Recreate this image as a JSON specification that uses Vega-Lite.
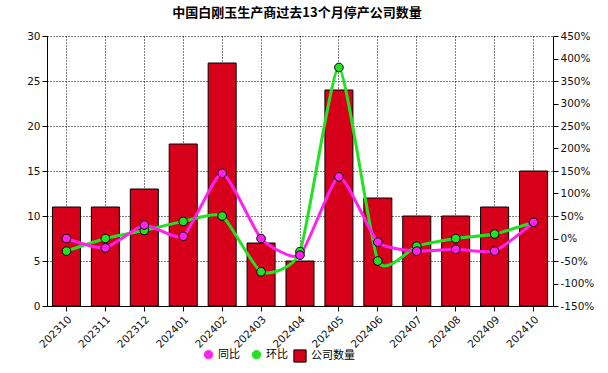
{
  "$schema": "https://vega.github.io/schema/vega-lite/v6.json",
  "width": 506,
  "height": 270,
  "autosize": {"type": "none"},
  "padding": {"left": 47, "top": 36, "right": 55, "bottom": 67},
  "background": "white",
  "title": {"text": "中国白刚玉生产商过去13个月停产公司数量", "font": "Noto Sans CJK SC", "fontSize": 13, "fontWeight": "bold", "anchor": "middle", "offset": 11, "dx": -3, "color": "#000"},
  "config": {
    "view": {"stroke": null},
    "axis": {"labelFont": "DejaVu Sans", "labelFontSize": 10.5, "labelColor": "#111", "domainColor": "#000", "tickColor": "#000", "gridColor": "#000", "gridDash": [1, 2], "gridOpacity": 1, "gridWidth": 1, "tickSize": 5, "labelPadding": 2},
    "legend": {"labelFont": "Noto Sans CJK SC", "labelFontSize": 11, "labelColor": "#000"}
  },
  "data": {"values": [
    {"month": "202310", "count": 11, "同比": 0, "环比": -28, "s": "公司数量"},
    {"month": "202311", "count": 11, "同比": -21, "环比": 0, "s": "公司数量"},
    {"month": "202312", "count": 13, "同比": 30, "环比": 18, "s": "公司数量"},
    {"month": "202401", "count": 18, "同比": 5, "环比": 38, "s": "公司数量"},
    {"month": "202402", "count": 27, "同比": 145, "环比": 50, "s": "公司数量"},
    {"month": "202403", "count": 7, "同比": 0, "环比": -74, "s": "公司数量"},
    {"month": "202404", "count": 5, "同比": -37, "环比": -29, "s": "公司数量"},
    {"month": "202405", "count": 24, "同比": 137, "环比": 380, "s": "公司数量"},
    {"month": "202406", "count": 12, "同比": -8, "环比": -50, "s": "公司数量"},
    {"month": "202407", "count": 10, "同比": -28, "环比": -17, "s": "公司数量"},
    {"month": "202408", "count": 10, "同比": -24, "环比": 0, "s": "公司数量"},
    {"month": "202409", "count": 11, "同比": -28, "环比": 10, "s": "公司数量"},
    {"month": "202410", "count": 15, "同比": 36, "环比": 36, "s": "公司数量"}
  ]},
  "encoding": {
    "x": {"field": "month", "type": "ordinal", "scale": {"paddingInner": 0.28, "paddingOuter": 0.14},
      "axis": {"title": null, "labelAngle": -45, "grid": true, "bandPosition": 0.5, "labelAlign": "right", "labelBaseline": "top", "labelPadding": 3}}
  },
  "layer": [
    {
      "mark": {"type": "bar", "stroke": "#000", "strokeWidth": 1},
      "encoding": {
        "y": {"field": "count", "type": "quantitative", "scale": {"domain": [0, 30]},
          "axis": {"title": null, "orient": "left", "values": [0, 5, 10, 15, 20, 25, 30], "grid": true}},
        "fill": {"field": "s", "type": "nominal", "scale": {"range": ["#d7001a"]},
          "legend": {"title": null, "orient": "none", "legendX": 246, "legendY": 313, "symbolType": "square", "symbolSize": 150, "symbolStrokeColor": "#000", "symbolStrokeWidth": 1}}
      }
    },
    {
      "transform": [{"fold": ["环比", "同比"], "as": ["key", "val"]}],
      "encoding": {
        "y": {"field": "val", "type": "quantitative", "scale": {"domain": [-150, 450]},
          "axis": {"title": null, "orient": "right", "values": [-150, -100, -50, 0, 50, 100, 150, 200, 250, 300, 350, 400, 450], "grid": false, "labelExpr": "datum.value + '%'"}},
        "color": {"field": "key", "type": "nominal", "scale": {"domain": ["同比", "环比"], "range": ["#ff22ee", "#22e022"]},
          "legend": {"title": null, "orient": "none", "direction": "horizontal", "legendX": 156, "legendY": 313, "symbolType": "circle", "symbolSize": 70, "symbolStrokeColor": "#000", "symbolStrokeWidth": 1, "columnPadding": 10}}
      },
      "layer": [
        {"mark": {"type": "line", "strokeWidth": 3, "interpolate": "cardinal", "tension": 0.45}},
        {"mark": {"type": "point", "filled": true, "size": 75, "stroke": "#000", "strokeWidth": 1, "opacity": 1}}
      ]
    }
  ],
  "resolve": {"scale": {"y": "independent"}}
}
